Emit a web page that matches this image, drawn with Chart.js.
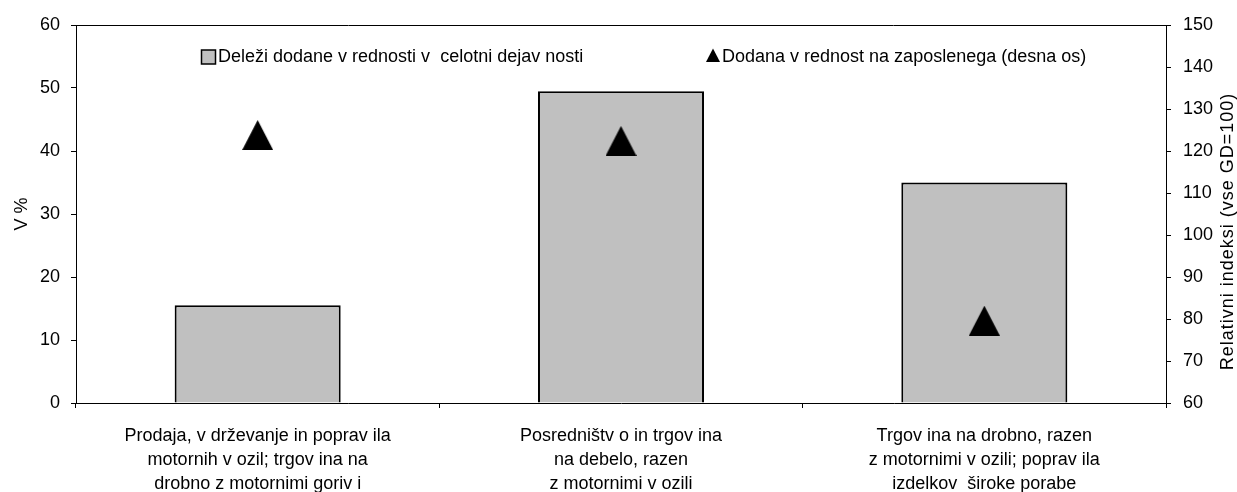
<!DOCTYPE html>
<html>
<head>
<meta charset="utf-8">
<script src="https://cdn.jsdelivr.net/npm/chart.js@4/dist/chart.umd.min.js"></script>
<style>
  html, body { margin: 0; padding: 0; background: #fff; }
  #wrap { position: relative; width: 1237px; height: 492px; }
</style>
</head>
<body>
<div id="wrap"><canvas id="c" width="1237" height="492"></canvas></div>
<script>
// ---- data ----
const categories = [
  ["Prodaja, v drževanje in poprav ila", "motornih v ozil; trgov ina na", "drobno z motornimi goriv i"],
  ["Posredništv o in trgov ina", "na debelo, razen", "z motornimi v ozili"],
  ["Trgov ina na drobno, razen", "z motornimi v ozili; poprav ila", "izdelkov  široke porabe"]
];
const shareValues = [15.5, 49.5, 35.0];          // left axis, %
const perEmployeeValues = [123.8, 122.4, 79.6];  // right axis, index
const shareLabel = "Deleži dodane v rednosti v  celotni dejav nosti";
const perEmployeeLabel = "Dodana v rednost na zaposlenega (desna os)";
const leftTitle = "V %";
const rightTitle = "Relativni indeksi (vse GD=100)";
const leftTicks = { min: 0, max: 60, step: 10 };
const rightTicks = { min: 60, max: 150, step: 10 };

const FONT = "'Liberation Sans', Arial, sans-serif";

function triangleCanvas(w, h) {
  const c = document.createElement('canvas');
  c.width = w; c.height = h;
  const g = c.getContext('2d');
  g.fillStyle = '#000';
  g.beginPath();
  g.moveTo(w / 2, 0);
  g.lineTo(w, h);
  g.lineTo(0, h);
  g.closePath();
  g.fill();
  return c;
}
const triMarker = triangleCanvas(31, 30);

const decorPlugin = {
  id: 'decor',
  afterDraw(chart) {
    const ctx = chart.ctx;
    const a = chart.chartArea;
    ctx.save();
    // top border of plot area
    ctx.strokeStyle = '#000';
    ctx.lineWidth = 1;
    ctx.beginPath();
    ctx.moveTo(a.left, a.top + 0.5);
    ctx.lineTo(a.right, a.top + 0.5);
    ctx.stroke();

    // legend
    ctx.font = '18px ' + FONT;
    ctx.textBaseline = 'middle';
    ctx.textAlign = 'left';
    ctx.fillStyle = '#000';
    const ly = 57;
    // item 1 : square
    ctx.fillStyle = '#C0C0C0';
    ctx.fillRect(201.5, ly - 7, 14, 14);
    ctx.strokeStyle = '#000';
    ctx.lineWidth = 1.5;
    ctx.strokeRect(201.5, ly - 7, 14, 14);
    ctx.fillStyle = '#000';
    ctx.fillText(shareLabel, 218, ly);
    // item 2 : triangle
    ctx.beginPath();
    ctx.moveTo(713, ly - 8.5);
    ctx.lineTo(720, ly + 5);
    ctx.lineTo(706, ly + 5);
    ctx.closePath();
    ctx.fill();
    ctx.fillText(perEmployeeLabel, 722, ly);

    // right axis title (reads bottom to top)
    ctx.translate(a.right + 62, 231.5);
    ctx.rotate(-Math.PI / 2);
    ctx.textAlign = 'center';
    try { ctx.letterSpacing = '1px'; } catch (e) {}
    ctx.fillText(rightTitle, 0, 0);
    ctx.restore();
  }
};

new Chart(document.getElementById('c'), {
  data: {
    labels: categories,
    datasets: [
      {
        type: 'line',
        label: perEmployeeLabel,
        data: perEmployeeValues,
        yAxisID: 'y2',
        showLine: false,
        pointStyle: triMarker,
        pointRadius: 15,
        pointHoverRadius: 15,
        order: 1
      },
      {
        type: 'bar',
        label: shareLabel,
        data: shareValues,
        yAxisID: 'y',
        backgroundColor: '#C0C0C0',
        borderColor: '#000',
        borderWidth: 2,
        categoryPercentage: 1,
        barPercentage: 0.457,
        order: 2
      }
    ]
  },
  options: {
    responsive: false,
    animation: false,
    devicePixelRatio: 1,
    layout: { padding: { top: 25, left: 0, right: 0, bottom: 0 } },
    plugins: {
      legend: { display: false },
      tooltip: { enabled: false }
    },
    scales: {
      x: {
        offset: true,
        grid: { offset: true, drawOnChartArea: false, drawTicks: true, tickLength: 5, color: '#000' },
        border: { display: true, color: '#000', width: 1 },
        ticks: {
          color: '#000',
          font: { family: FONT, size: 18, lineHeight: 1.33 },
          padding: 16,
          maxRotation: 0,
          autoSkip: false
        },
        afterFit(s) { s.height = 89; }
      },
      y: {
        position: 'left',
        min: leftTicks.min, max: leftTicks.max,
        ticks: { stepSize: leftTicks.step, color: '#000', font: { family: FONT, size: 18 }, padding: 11 },
        grid: { drawOnChartArea: false, drawTicks: true, tickLength: 5, color: '#000' },
        border: { display: true, color: '#000', width: 1 },
        title: { display: true, text: leftTitle, color: '#000', font: { family: FONT, size: 18 }, padding: { top: 11, bottom: 0 } },
        afterFit(s) { s.width = 76; }
      },
      y2: {
        position: 'right',
        min: rightTicks.min, max: rightTicks.max,
        ticks: { stepSize: rightTicks.step, color: '#000', font: { family: FONT, size: 18 }, padding: 12 },
        grid: { drawOnChartArea: false, drawTicks: true, tickLength: 5, color: '#000' },
        border: { display: true, color: '#000', width: 1 },
        afterFit(s) { s.width = 71; }
      }
    }
  },
  plugins: [decorPlugin]
});
</script>
</body>
</html>
